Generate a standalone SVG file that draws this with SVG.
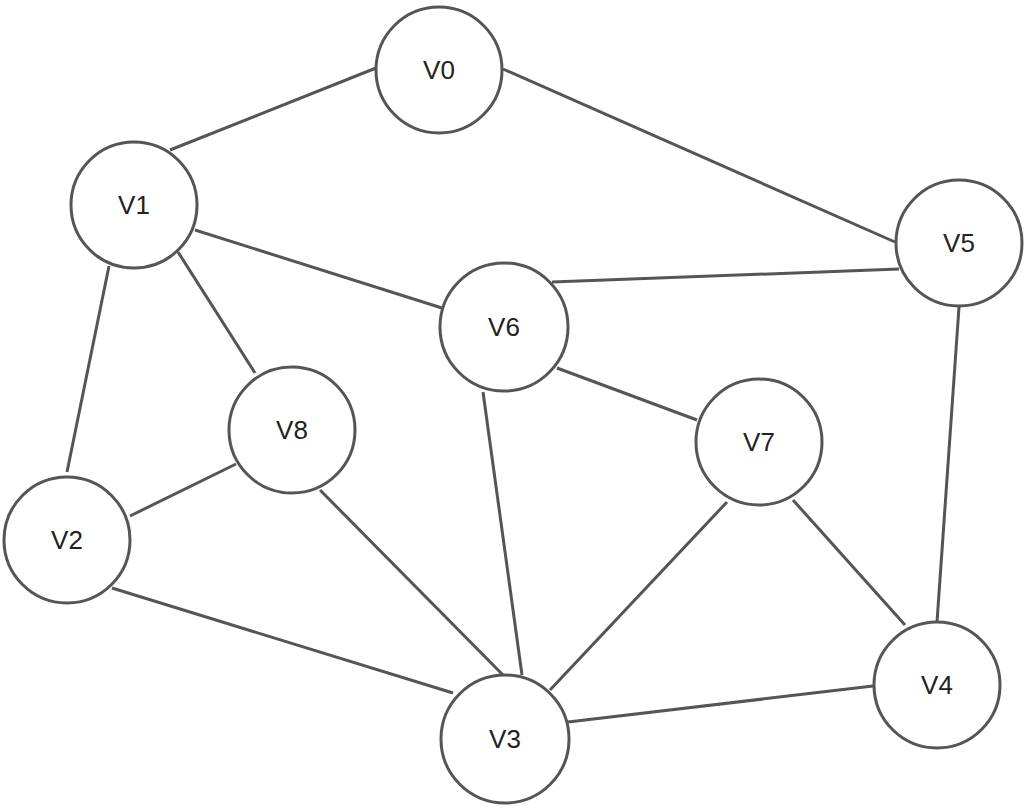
<svg xmlns="http://www.w3.org/2000/svg" width="1028" height="808" viewBox="0 0 1028 808">
<style>
.e{stroke:#555;stroke-width:3;fill:none}
.n circle{fill:#fff;stroke:#555;stroke-width:3}
.n text{font-family:"Liberation Sans",Arial,sans-serif;font-size:26px;fill:#222;text-anchor:middle;dominant-baseline:central}
</style>
<rect width="1028" height="808" fill="#fff"/>
<g id="edges">
<line class="e" x1="376" y1="68" x2="170" y2="150"/>
<line class="e" x1="503" y1="69" x2="895" y2="242"/>
<line class="e" x1="195" y1="230" x2="442" y2="308"/>
<line class="e" x1="178" y1="252" x2="255" y2="373"/>
<line class="e" x1="109" y1="266" x2="67" y2="472"/>
<line class="e" x1="899" y1="269" x2="552" y2="282"/>
<line class="e" x1="959" y1="307" x2="937" y2="622"/>
<line class="e" x1="557" y1="368" x2="697" y2="420"/>
<line class="e" x1="483" y1="392" x2="522" y2="675"/>
<line class="e" x1="236" y1="464" x2="130" y2="516"/>
<line class="e" x1="320" y1="490" x2="503" y2="675"/>
<line class="e" x1="112" y1="588" x2="453" y2="693"/>
<line class="e" x1="727" y1="502" x2="550" y2="690"/>
<line class="e" x1="793" y1="500" x2="905" y2="625"/>
<line class="e" x1="873" y1="686" x2="568" y2="722"/>
</g>
<g id="V0" class="n"><circle cx="439" cy="70" r="63"/><text x="439" y="70">V0</text></g>
<g id="V1" class="n"><circle cx="134" cy="205" r="63"/><text x="134" y="205">V1</text></g>
<g id="V2" class="n"><circle cx="67" cy="540" r="63"/><text x="67" y="540">V2</text></g>
<g id="V3" class="n"><circle cx="505" cy="739" r="64"/><text x="505" y="739">V3</text></g>
<g id="V4" class="n"><circle cx="937" cy="685" r="63"/><text x="937" y="685">V4</text></g>
<g id="V5" class="n"><circle cx="959" cy="243" r="63"/><text x="959" y="243">V5</text></g>
<g id="V6" class="n"><circle cx="504" cy="327" r="64"/><text x="504" y="327">V6</text></g>
<g id="V7" class="n"><circle cx="759" cy="442" r="63"/><text x="759" y="442">V7</text></g>
<g id="V8" class="n"><circle cx="292" cy="430" r="63"/><text x="292" y="430">V8</text></g>
</svg>
